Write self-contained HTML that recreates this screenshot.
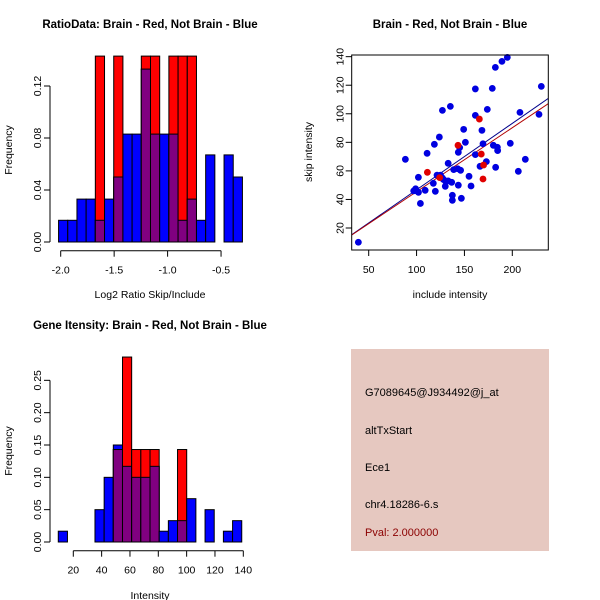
<!DOCTYPE html>
<html><head><meta charset="utf-8"><style>
html,body{margin:0;padding:0;background:#fff}
svg{display:block;font-family:"Liberation Sans",sans-serif}
</style></head><body>
<svg id="c" width="600" height="600" viewBox="0 0 600 600" xmlns="http://www.w3.org/2000/svg">
<rect x="0" y="0" width="600" height="600" fill="#fff"/>
<g>
<rect x="351" y="349" width="198" height="202" fill="#e6c8c0"/>
<text x="365" y="396" font-size="11" fill="#000">G7089645@J934492@j_at</text>
<text x="365" y="434" font-size="11" fill="#000">altTxStart</text>
<text x="365" y="471" font-size="11" fill="#000">Ece1</text>
<text x="365" y="508" font-size="11" fill="#000">chr4.18286-6.s</text>
<text x="365" y="536" font-size="11" fill="#8b0000">Pval: 2.000000</text>
</g>
</svg>
<script>
// ---- Ratio histogram data ----
const ratioStart = -2.02;
const ratioBinWidth = 0.086;
const ratioBlue = [0.0167,0.0167,0.033,0.033,0.0167,0.033,0.05,0.083,0.083,0.133,0.083,0.083,0.083,0.0167,0.033,0.0167,0.067,0,0.067,0.05];
const ratioRed  = [0,0,0,0,0.143,0,0.143,0,0,0.143,0.143,0,0.143,0.143,0.143,0,0,0,0,0];
const ratioXTicks = [-2.0,-1.5,-1.0,-0.5];
const ratioXTickLabels = ["-2.0","-1.5","-1.0","-0.5"];
const ratioYTicks = [0,0.04,0.08,0.12];
const ratioYTickLabels = ["0.00","0.04","0.08","0.12"];
// ---- Intensity histogram data ----
const intStart = 9.4;
const intBinWidth = 6.475;
const intBlue = [0.0167,0,0,0,0.05,0.10,0.15,0.117,0.10,0.10,0.117,0.0167,0.033,0.033,0.067,0,0.05,0,0.0167,0.033];
const intRed  = [0,0,0,0,0,0,0.143,0.286,0.143,0.143,0.143,0,0,0.143,0,0,0,0,0,0];
const intXTicks = [20,40,60,80,100,120,140];
const intXTickLabels = ["20","40","60","80","100","120","140"];
const intYTicks = [0,0.05,0.10,0.15,0.20,0.25];
const intYTickLabels = ["0.00","0.05","0.10","0.15","0.20","0.25"];
// ---- Scatter data ----
const blueInclude = [39.2,88.3,97,99,100,102,101.9,104,109,111,117.5,118.6,119.6,121.4,123.8,125,127,128,130,127,130,133,133,135.3,136.7,137.4,137.4,138.8,143,143.6,143.6,145,146,146.8,149.2,151,154.8,156.9,161.4,161.4,161.4,166.3,168.3,169.4,172.9,173.9,179.1,180.2,182.3,182.6,184.4,184.7,189.2,194.8,197.9,206.3,208,213.6,227.9,230.3];
const blueSkip    = [10,68.1,46,47.5,46,45,55.5,37.2,46.4,72.3,51.3,78.6,45.7,57,83.7,57,55,54,53,102.4,49.2,65.3,53,105.2,52,42.9,39.4,60.9,61.5,73,50,76.3,60.4,40.8,89.1,80,56.2,49.4,71.4,117.4,98.9,63.2,88.4,79,66.5,103.1,117.8,77.9,132.5,62.5,76.5,74.2,136.7,139.5,79.3,59.7,101,68.1,99.6,119.2];
const redInclude = [111.3,124.1,143.3,165.6,167.6,170,169.4];
const redSkip    = [59,55.3,77.9,96.3,71.8,64.1,54.3];
const fitIntercepts = [0.28,0.63];   // blue, red
const fitSlopes = [0.465,0.448];
const scXTicks = [50,100,150,200];
const scYTicks = [20,40,60,80,100,120,140];

const NS="http://www.w3.org/2000/svg";
const svg=document.getElementById('c');
function mk(tag,attrs,parent){const e=document.createElementNS(NS,tag);for(const k in attrs)e.setAttribute(k,attrs[k]);(parent||svg).appendChild(e);return e;}
function txt(x,y,s,size,extra,parent){const t=mk('text',Object.assign({x:x,y:y,'font-size':size,'text-anchor':'middle',fill:'#000'},extra||{}),parent);t.textContent=s;return t;}

function histogram(opt){
  const g=mk('g',{});
  
  
  const xs=v=>opt.x0px+(v-opt.x0v)*opt.xk;
  const ys=v=>opt.y0px-v*opt.yk;
  for(let i=0;i<opt.blue.length;i++){
    const a=xs(opt.start+i*opt.bw), b=xs(opt.start+(i+1)*opt.bw);
    const bv=opt.blue[i], rv=opt.red[i];
    if(bv>0){const r=mk('rect',{x:a,y:ys(bv),width:b-a,height:ys(0)-ys(bv),fill:'#0000ff',stroke:'#000','stroke-width':1},g);
      
      }
    if(rv>0){const r=mk('rect',{x:a,y:ys(rv),width:b-a,height:ys(0)-ys(rv),fill:'#ff0000',stroke:'#000','stroke-width':1},g);
      
      }
    if(bv>0&&rv>0){const m=Math.min(bv,rv);const r=mk('rect',{x:a,y:ys(m),width:b-a,height:ys(0)-ys(m),fill:'#800080',stroke:'#000','stroke-width':1},g);
      
      }
  }
  const ya=mk('g',{},g);
  
  
  const yt=opt.yTicks;
  mk('line',{x1:50,x2:50,y1:ys(yt[0]),y2:ys(yt[yt.length-1]),stroke:'#000'},ya);
  yt.forEach((v,i)=>{mk('line',{x1:44,x2:50,y1:ys(v),y2:ys(v),stroke:'#000'},ya);
    const t=txt(0,0,opt.yLabels[i],10.5,{transform:`translate(41,${ys(v)}) rotate(-90)`},ya);
    
    });
  const xa=mk('g',{},g);
  
  
  const xt=opt.xTicks, ay=opt.xAxisY;
  mk('line',{x1:xs(xt[0]),x2:xs(xt[xt.length-1]),y1:ay,y2:ay,stroke:'#000'},xa);
  xt.forEach((v,i)=>{mk('line',{x1:xs(v),x2:xs(v),y1:ay,y2:ay+6,stroke:'#000'},xa);
    const t=txt(xs(v),ay+23,opt.xLabels[i],10.5,{},xa);
    
    });
  const ti=txt(150,opt.titleY,opt.title,11.5,{'font-weight':'bold'},g);
  
  
  const xl=txt(150,opt.titleY+270,opt.xTitle,10.5,{},g);
  
  
  const yl=txt(0,0,'Frequency',10.5,{transform:`translate(12,${opt.titleY+122}) rotate(-90)`},g);
  
  
}

histogram({name:'ratio-histogram',start:ratioStart,bw:ratioBinWidth,blue:ratioBlue,red:ratioRed,
  x0v:-2.0,x0px:60.7,xk:106.9,y0px:242,yk:1300,yTicks:ratioYTicks,yLabels:ratioYTickLabels,
  xTicks:ratioXTicks,xLabels:ratioXTickLabels,xAxisY:250.7,title:'RatioData: Brain - Red, Not Brain - Blue',
  titleY:28,xTitle:'Log2 Ratio Skip/Include'});
histogram({name:'intensity-histogram',start:intStart,bw:intBinWidth,blue:intBlue,red:intRed,
  x0v:20,x0px:73.3,xk:1.4167,y0px:542,yk:646.7,yTicks:intYTicks,yLabels:intYTickLabels,
  xTicks:intXTicks,xLabels:intXTickLabels,xAxisY:550.7,title:'Gene Itensity: Brain - Red, Not Brain - Blue',
  titleY:329,xTitle:'Intensity'});

(function(){
  const g=mk('g',{});
  
  
  const L=351.7,R=548.3,T=55,B=250;
  const xs=v=>368.7+(v-50)*0.9573;
  const ys=v=>228-(v-20)*1.4278;
  const cp=mk('clipPath',{id:'scclip'},g);mk('rect',{x:L,y:T,width:R-L,height:B-T},cp);
  const fitColors=['#00008b','#b00000'];
  fitIntercepts.forEach((a,i)=>{const x1=32.3,x2=237.6;
    const l=mk('line',{x1:xs(x1),y1:ys(a+fitSlopes[i]*x1),x2:xs(x2),y2:ys(a+fitSlopes[i]*x2),stroke:fitColors[i],'stroke-width':1,'clip-path':'url(#scclip)'},g);
    
    });
  blueInclude.forEach((v,i)=>{const c=mk('circle',{cx:xs(v),cy:ys(blueSkip[i]),r:3.4,fill:'#0000e0'},g);
    
    });
  redInclude.forEach((v,i)=>{const c=mk('circle',{cx:xs(v),cy:ys(redSkip[i]),r:3.4,fill:'#e00000'},g);
    
    });
  const box=mk('rect',{x:L,y:T,width:R-L,height:B-T,fill:'none',stroke:'#000'},g);
  
  
  scXTicks.forEach(v=>{mk('line',{x1:xs(v),x2:xs(v),y1:B,y2:B+6,stroke:'#000'},g);
    const t=txt(xs(v),B+23,String(v),10.5,{},g);
    
    });
  scYTicks.forEach(v=>{mk('line',{x1:L-6,x2:L,y1:ys(v),y2:ys(v),stroke:'#000'},g);
    const t=txt(0,0,String(v),10.5,{transform:`translate(${L-8},${ys(v)}) rotate(-90)`},g);
    
    });
  const ti=txt(450,28,'Brain - Red, Not Brain - Blue',11.5,{'font-weight':'bold'},g);
  
  
  const xl=txt(450,298,'include intensity',10.5,{},g);
  
  
  const yl=txt(0,0,'skip intensity',10.5,{transform:'translate(312,152) rotate(-90)'},g);
  
  
})();
</script>
</body></html>
